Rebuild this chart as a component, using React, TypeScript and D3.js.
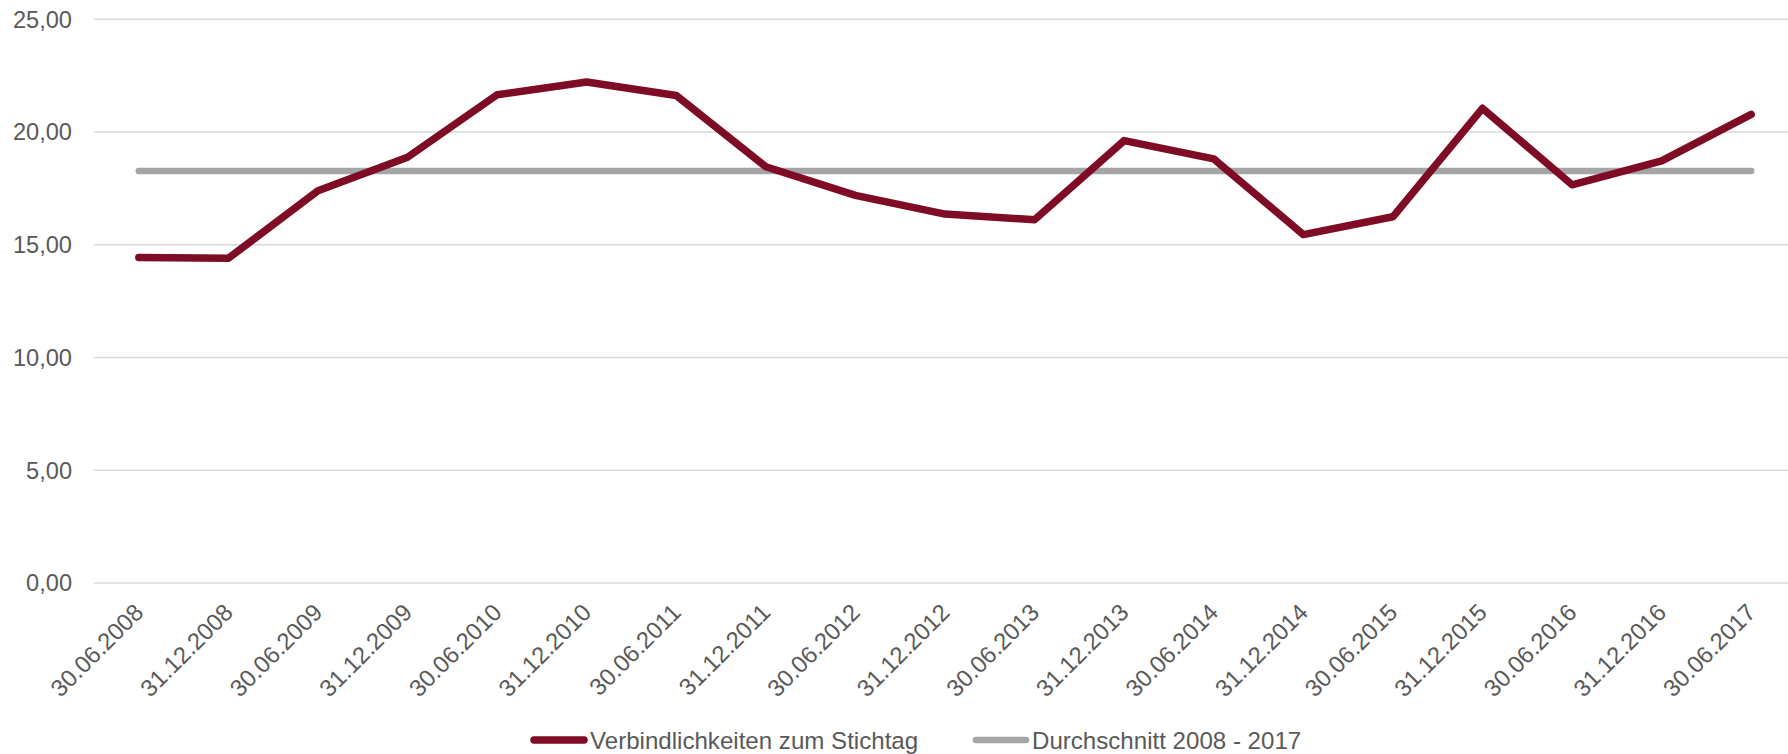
import React, { useEffect, useRef } from 'react';
import * as d3 from 'd3';

// half-year reporting dates
const categories = [
  '30.06.2008', '31.12.2008', '30.06.2009', '31.12.2009', '30.06.2010',
  '31.12.2010', '30.06.2011', '31.12.2011', '30.06.2012', '31.12.2012',
  '30.06.2013', '31.12.2013', '30.06.2014', '31.12.2014', '30.06.2015',
  '31.12.2015', '30.06.2016', '31.12.2016', '30.06.2017'
];

// Verbindlichkeiten zum Stichtag
const liabilities = [
  14.44, 14.40, 17.39, 18.88, 21.65, 22.22, 21.62, 18.46, 17.19, 16.36,
  16.11, 19.62, 18.81, 15.45, 16.24, 21.05, 17.66, 18.72, 20.78
];

// Durchschnitt 2008 - 2017
const average = [18.27];

const yTicks = [0, 5, 10, 15, 20, 25];

const seriesNames = ['Verbindlichkeiten zum Stichtag', 'Durchschnitt 2008 - 2017'];

const W = 1788;
const H = 754;
const FONT = '"Liberation Sans", Arial, sans-serif';
const TEXT = '#595959';
const RED = '#7E0C24';
const GRAY = '#A5A5A5';

const App = () => {
  const ref = useRef<SVGSVGElement | null>(null);

  useEffect(() => {
    document.body.style.margin = '0';
    document.body.style.overflow = 'hidden';

    const svg = d3.select(ref.current);
    svg.selectAll('*').remove();

    const x = d3.scaleBand<string>()
      .domain(categories)
      .range([94, 1796]);

    const y = d3.scaleLinear()
      .domain([0, 25])
      .range([583, 19.25]);

    const cx = (c: string) => (x(c) as number) + x.bandwidth() / 2;
    const fmt = (v: number) => d3.format('.2f')(v).replace('.', ',');

    // gridlines
    svg.append('g')
      .selectAll('line')
      .data(yTicks)
      .join('line')
        .attr('x1', 94)
        .attr('x2', 1796)
        .attr('y1', d => y(d))
        .attr('y2', d => y(d))
        .attr('stroke', '#D9D9D9')
        .attr('stroke-width', 1.5);

    // y labels
    svg.append('g')
      .selectAll('text')
      .data(yTicks)
      .join('text')
        .attr('x', 72)
        .attr('y', d => y(d) + 8.3)
        .attr('text-anchor', 'end')
        .attr('font-family', FONT)
        .attr('font-size', 23.6)
        .attr('fill', TEXT)
        .text(d => fmt(d));

    // x labels
    svg.append('g')
      .selectAll('text')
      .data(categories)
      .join('text')
        .attr('transform', d => `translate(${cx(d) + 6},${614}) rotate(-45)`)
        .attr('text-anchor', 'end')
        .attr('font-family', FONT)
        .attr('font-size', 23.8)
        .attr('fill', TEXT)
        .text(d => d);

    // average line
    svg.append('line')
      .attr('x1', cx(categories[0]))
      .attr('x2', cx(categories[categories.length - 1]))
      .attr('y1', y(average[0]))
      .attr('y2', y(average[0]))
      .attr('stroke', GRAY)
      .attr('stroke-width', 6.5)
      .attr('stroke-linecap', 'round');

    const line = d3.line<number>()
      .x((d, i) => cx(categories[i]))
      .y(d => y(d));

    svg.append('path')
      .datum(liabilities)
      .attr('d', line)
      .attr('fill', 'none')
      .attr('stroke', RED)
      .attr('stroke-width', 7.5)
      .attr('stroke-linecap', 'round')
      .attr('stroke-linejoin', 'round');

    // legend
    const legend = [
      { name: seriesNames[0], color: RED, x: 534, w: 7.5 },
      { name: seriesNames[1], color: GRAY, x: 976, w: 6.5 }
    ];
    const lg = svg.append('g')
      .selectAll('g')
      .data(legend)
      .join('g')
        .attr('transform', d => `translate(${d.x},740)`);
    lg.append('line')
      .attr('x1', 0)
      .attr('x2', 50)
      .attr('stroke', d => d.color)
      .attr('stroke-width', d => d.w)
      .attr('stroke-linecap', 'round');
    lg.append('text')
      .attr('x', 56)
      .attr('y', 8.5)
      .attr('font-family', FONT)
      .attr('font-size', 24.1)
      .attr('fill', TEXT)
      .text(d => d.name);
  }, []);

  return (
    <svg ref={ref} width={W} height={H} style={{ display: 'block', background: '#fff' }} />
  );
};

export default App;
